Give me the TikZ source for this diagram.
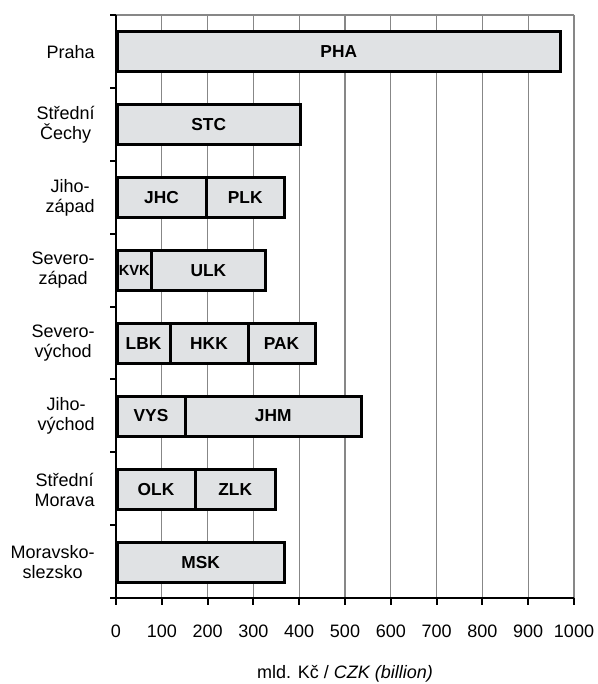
\documentclass[tikz,border=0pt]{standalone}
\usepackage{fontspec}
\setmainfont{Liberation Sans}
\definecolor{marble}{RGB}{224,226,228}
\definecolor{gridgray}{RGB}{135,135,135}
\newcommand\barseg[5]{\node[seg,minimum width={(#3-#2)*0.75pt}] (#1) at ({(#2+#3)/2},#4) {#5};}
\begin{document}
\begin{tikzpicture}[x=0.75pt,y=-0.75pt,
  seg/.style={draw=black,line width=2.25pt,fill=marble,inner sep=0pt,
    minimum height=30pt,font=\bfseries\fontsize{13}{13}\selectfont},
  cat/.style={anchor=east,align=center,inner sep=0pt,
    font=\fontsize{13.5}{15}\selectfont},
  num/.style={anchor=base,inner sep=0pt,font=\fontsize{13.5}{15}\selectfont},
  gridline/.style={draw=gridgray,line width=0.9pt},
  axisline/.style={draw=black,line width=1.5pt}]
\useasboundingbox (0,0) rectangle (597,684);
% grid and plot border
\foreach \i in {1,...,10} {
  \draw[gridline] ({116+45.8*\i},15) -- ({116+45.8*\i},598);
}
\draw[gridline] (116,15) -- (574,15);
% bars
\barseg{pha}{117}{560.5}{52}{PHA}
\barseg{stc}{117}{300.5}{124.5}{STC}
\barseg{jhc}{117}{206}{197.5}{JHC}
\barseg{plk}{206}{284.5}{197.5}{PLK}
\barseg{kvk}{117}{151.7}{270.5}{\fontsize{11}{11}\selectfont KVK}
\barseg{ulk}{151.7}{265}{270.5}{ULK}
\barseg{lbk}{117}{170}{343.5}{LBK}
\barseg{hkk}{170}{248}{343.5}{HKK}
\barseg{pak}{248}{315}{343.5}{PAK}
\barseg{vys}{117}{185}{416}{VYS}
\barseg{jhm}{185}{361.5}{416}{JHM}
\barseg{olk}{117}{195}{489.5}{OLK}
\barseg{zlk}{195}{275.5}{489.5}{ZLK}
\barseg{msk}{117}{284.5}{562.5}{MSK}
% axes
\draw[axisline] (116,15) -- (116,598);
\draw[axisline] (110,598) -- (574,598);
\foreach \k in {0,...,7} {
  \draw[axisline] (110,{15+72.875*\k}) -- (116,{15+72.875*\k});
}
\foreach \i in {0,...,10} {
  \draw[axisline] ({116+45.8*\i},598) -- ({116+45.8*\i},605);
  \pgfmathtruncatemacro\v{100*\i}
  \node[num] (n\i) at ({116+45.8*\i},637) {\v};
}
% category labels
\node[cat] (c1) at (95,52) {Praha};
\node[cat] (c2) at (95,124.5) {Střední\\Čechy};
\node[cat] (c3) at (95,197.5) {Jiho-\\západ};
\node[cat] (c4) at (95,270.5) {Severo-\\západ};
\node[cat] (c5) at (95,343.5) {Severo-\\východ};
\node[cat] (c6) at (95,416) {Jiho-\\východ};
\node[cat] (c7) at (95,489.5) {Střední\\Morava};
\node[cat] (c8) at (95,562.5) {Moravsko-\\slezsko};
% axis title
\node[num] (title) at (345,678) {mld. Kč / \textit{CZK (billion)}};
\end{tikzpicture}
\end{document}
